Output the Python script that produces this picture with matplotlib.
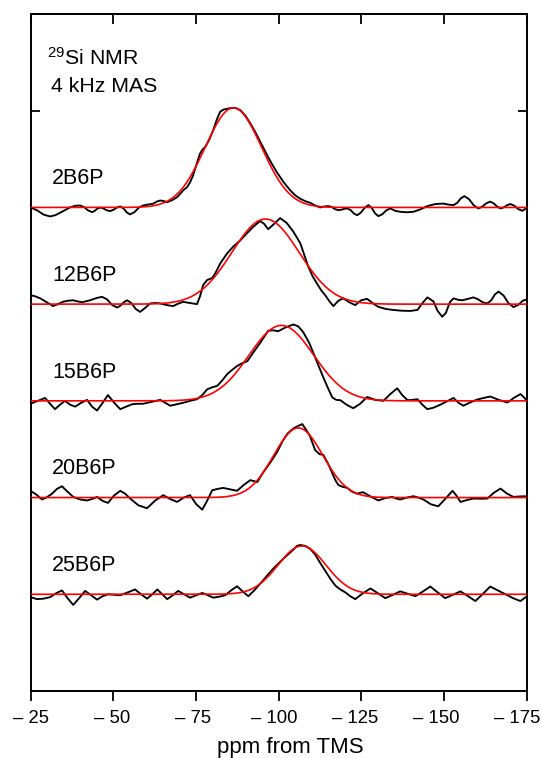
import numpy as np
import matplotlib
matplotlib.use("Agg")
import matplotlib.pyplot as plt
from matplotlib.transforms import blended_transform_factory, ScaledTranslation

plt.rcParams['font.family'] = ['Liberation Sans', 'DejaVu Sans']
plt.rcParams['mathtext.fontset'] = 'custom'
plt.rcParams['mathtext.rm'] = 'Liberation Sans'
plt.rcParams['mathtext.it'] = 'Liberation Sans'

# Sample names, stacked from top to bottom
samples = ["2B6P", "12B6P", "15B6P", "20B6P", "25B6P"]
offsets = [4, 3, 2, 1, 0]

# Measured 29Si MAS NMR spectra (chemical shift in ppm, normalised intensity)
ppm_2b6p = [-25.0, -27.0, -29.0, -30.9, -32.5, -34.5, -36.9, -38.5, -40.0, -41.2,
            -42.4, -43.6, -44.4, -45.2, -46.0, -47.0, -48.0, -49.0, -50.0, -51.1,
            -52.1, -53.1, -54.1, -55.1, -56.4, -57.7, -59.0, -60.5, -62.0, -63.1,
            -64.2, -65.2, -66.3, -67.8, -69.3, -70.2, -71.1, -72.3, -73.2, -74.1,
            -75.2, -76.2, -77.0, -77.8, -79.0, -80.2, -81.3, -82.3, -83.3, -84.4,
            -85.3, -86.2, -87.3, -88.4, -89.9, -91.4, -92.9, -94.4, -95.6, -96.8,
            -98.1, -99.5, -101.5, -103.5, -105.0, -106.5, -108.0, -109.5, -111.0, -112.5,
            -113.7, -115.0, -116.0, -117.0, -118.0, -118.9, -119.8, -120.7, -121.7, -122.7,
            -123.7, -124.8, -126.0, -127.1, -128.1, -129.1, -130.1, -131.3, -132.5, -133.7,
            -135.2, -136.7, -138.7, -140.7, -142.8, -144.9, -147.3, -149.7, -151.2, -152.8,
            -153.9, -155.0, -156.1, -157.5, -158.9, -160.3, -161.5, -162.7, -163.9, -164.9,
            -166.0, -167.0, -168.0, -169.0, -170.0, -171.2, -172.4, -173.6, -174.3, -175.0]
int_2b6p = [0.0, -0.03, -0.075, -0.093, -0.08, -0.045, 0.0, 0.017, 0.02, 0.003,
            -0.031, -0.048, -0.036, -0.012, 0.0, -0.01, -0.029, -0.038, -0.026, 0.0,
            0.01, -0.01, -0.052, -0.072, -0.049, -0.003, 0.02, 0.03, 0.038, 0.06,
            0.072, 0.066, 0.055, 0.075, 0.107, 0.14, 0.176, 0.21, 0.26, 0.33,
            0.45, 0.556, 0.60, 0.625, 0.70, 0.80, 0.91, 0.99, 1.012, 1.02,
            1.027, 1.03, 1.024, 1.005, 0.95, 0.87, 0.78, 0.68, 0.60, 0.52,
            0.44, 0.36, 0.26, 0.176, 0.125, 0.09, 0.065, 0.048, 0.02, 0.0,
            0.01, 0.014, 0.005, -0.018, -0.028, -0.024, -0.014, -0.01, -0.027, -0.063,
            -0.08, -0.054, -0.002, 0.024, -0.005, -0.061, -0.09, -0.07, -0.03, -0.01,
            -0.035, -0.045, -0.05, -0.045, -0.02, 0.014, 0.035, 0.04, 0.03, 0.024,
            0.047, 0.094, 0.117, 0.085, 0.022, -0.01, 0.008, 0.043, 0.06, 0.043,
            0.008, -0.01, 0.001, 0.024, 0.035, 0.018, -0.018, -0.035, -0.02, 0.0]

ppm_12b6p = [-25.0, -26.5, -28.0, -29.9, -31.8, -33.3, -34.8, -36.4, -37.9, -39.3,
             -40.6, -41.8, -43.0, -44.8, -46.6, -48.1, -49.7, -51.2, -52.2, -53.2,
             -54.2, -55.5, -56.8, -58.1, -59.6, -61.1, -62.7, -64.2, -66.2, -68.1,
             -69.6, -71.1, -72.6, -74.1, -75.3, -76.2, -77.2, -78.4, -79.9, -81.0,
             -82.3, -84.4, -86.4, -88.4, -90.3, -92.3, -94.4, -95.6, -96.8, -98.6,
             -100.4, -102.4, -104.4, -106.5, -107.7, -108.9, -110.2, -111.6, -112.9, -114.1,
             -115.3, -116.5, -118.0, -119.5, -121.3, -123.1, -124.9, -126.7, -128.4, -130.1,
             -132.4, -134.6, -137.2, -139.8, -141.9, -143.4, -144.9, -145.8, -146.7, -148.0,
             -149.4, -150.5, -151.7, -152.8, -154.2, -155.5, -157.2, -158.8, -160.2, -161.6,
             -163.0, -164.2, -165.3, -166.4, -167.9, -169.4, -170.9, -172.3, -173.7, -175.0]
int_12b6p = [0.093, 0.08, 0.059, 0.02, -0.02, 0.0, 0.024, 0.036, 0.04, 0.028,
             0.02, 0.03, 0.04, 0.062, 0.076, 0.05, -0.01, -0.035, -0.015, 0.02,
             0.04, 0.01, -0.05, -0.08, -0.04, 0.007, 0.012, 0.007, -0.01, -0.02,
             0.005, 0.024, 0.015, 0.007, 0.0, 0.08, 0.20, 0.25, 0.27, 0.33,
             0.42, 0.525, 0.60, 0.66, 0.73, 0.80, 0.86, 0.83, 0.775, 0.83,
             0.89, 0.84, 0.75, 0.63, 0.51, 0.39, 0.29, 0.21, 0.14, 0.09,
             0.03, -0.02, 0.035, 0.06, 0.02, -0.01, 0.04, 0.055, 0.01, -0.028,
             -0.05, -0.06, -0.068, -0.07, -0.06, 0.01, 0.07, 0.05, 0.03, -0.07,
             -0.13, -0.09, 0.02, 0.06, 0.045, 0.04, 0.055, 0.07, 0.05, 0.02,
             0.007, 0.04, 0.10, 0.13, 0.09, 0.01, -0.03, -0.01, 0.035, 0.05]

ppm_15b6p = [-25.0, -27.2, -29.4, -30.9, -32.4, -33.9, -35.4, -37.0, -38.5, -40.3,
             -42.1, -43.6, -45.1, -46.8, -48.4, -50.3, -52.1, -53.9, -55.7, -57.4,
             -59.0, -61.6, -64.2, -65.7, -67.2, -69.2, -71.1, -73.2, -75.3, -76.9,
             -78.4, -79.9, -81.4, -82.9, -84.4, -85.9, -87.4, -89.0, -90.5, -92.3,
             -94.4, -96.8, -98.3, -99.8, -102.1, -104.4, -105.9, -107.4, -109.2, -111.0,
             -112.3, -113.5, -114.9, -116.2, -117.4, -118.6, -120.5, -122.5, -124.6, -126.7,
             -129.2, -131.6, -133.7, -135.8, -137.3, -138.9, -140.4, -141.9, -143.4, -144.9,
             -146.8, -148.8, -150.8, -152.8, -154.3, -155.8, -157.9, -160.0, -161.9, -163.9,
             -166.5, -169.1, -171.0, -173.0, -174.0, -175.0]
int_15b6p = [-0.03, 0.0, 0.03, -0.03, -0.086, -0.04, 0.0, -0.04, -0.06, -0.02,
             0.01, -0.06, -0.10, -0.02, 0.06, -0.02, -0.086, -0.06, -0.035, -0.03,
             -0.03, -0.01, 0.01, -0.02, -0.05, -0.035, -0.02, 0.0, 0.017, 0.06,
             0.12, 0.14, 0.155, 0.21, 0.276, 0.32, 0.36, 0.39, 0.41, 0.50,
             0.60, 0.725, 0.73, 0.72, 0.76, 0.79, 0.77, 0.71, 0.60, 0.45,
             0.34, 0.24, 0.13, 0.035, 0.01, 0.007, -0.04, -0.076, -0.03, 0.04,
             0.01, 0.0, 0.07, 0.13, 0.06, 0.007, 0.01, 0.017, -0.04, -0.086,
             -0.07, -0.04, -0.005, 0.03, -0.02, -0.05, -0.015, 0.014, 0.03, 0.045,
             0.01, -0.017, 0.03, 0.07, 0.04, 0.0]

ppm_20b6p = [-25.0, -26.8, -28.5, -30.0, -31.5, -33.0, -34.5, -36.2, -37.9, -40.0,
             -42.1, -43.6, -45.1, -46.8, -48.4, -50.2, -52.1, -53.6, -55.1, -57.6,
             -60.2, -62.7, -65.1, -67.2, -69.3, -71.3, -73.2, -75.1, -76.9, -78.4,
             -79.9, -81.6, -83.2, -85.3, -87.4, -89.4, -91.4, -92.5, -93.5, -94.4,
             -95.3, -97.4, -99.5, -101.1, -102.6, -104.4, -105.8, -107.1, -108.3, -109.5,
             -111.0, -112.3, -113.5, -114.9, -116.2, -117.1, -118.0, -119.4, -120.7, -122.2,
             -123.7, -124.6, -125.5, -127.8, -130.1, -132.2, -134.3, -135.5, -136.7, -138.7,
             -140.7, -142.2, -143.7, -146.0, -148.2, -150.4, -152.5, -153.7, -154.9, -156.9,
             -158.8, -161.0, -163.0, -165.0, -167.0, -169.0, -170.9, -173.0, -175.0]
int_20b6p = [0.07, 0.03, -0.02, 0.005, 0.04, 0.09, 0.117, 0.06, 0.007, -0.02,
             -0.03, -0.015, 0.007, -0.035, -0.055, 0.02, 0.07, 0.04, -0.01, -0.08,
             -0.11, -0.03, 0.025, -0.015, -0.045, 0.0, 0.025, -0.07, -0.125, -0.03,
             0.076, 0.09, 0.10, 0.085, 0.07, 0.13, 0.18, 0.17, 0.16, 0.21,
             0.26, 0.36, 0.47, 0.58, 0.66, 0.715, 0.74, 0.76, 0.70, 0.63,
             0.49, 0.45, 0.44, 0.35, 0.25, 0.18, 0.13, 0.11, 0.10, 0.06,
             0.04, 0.05, 0.055, 0.01, -0.03, -0.005, 0.007, -0.01, -0.02, 0.0,
             0.014, 0.0, -0.02, -0.07, -0.09, -0.01, 0.07, 0.02, -0.045, -0.025,
             -0.01, -0.012, -0.01, 0.05, 0.093, 0.04, 0.007, 0.012, 0.014]

ppm_25b6p = [-25.0, -27.0, -29.0, -30.9, -32.7, -34.5, -36.2, -37.9, -39.7, -41.5,
             -43.3, -45.1, -46.8, -48.4, -50.3, -52.1, -54.4, -56.6, -58.4, -60.2,
             -61.8, -63.3, -64.8, -66.3, -68.0, -69.6, -71.4, -73.2, -75.1, -76.9,
             -78.6, -80.2, -82.0, -83.8, -85.6, -87.4, -89.1, -90.8, -92.6, -94.4,
             -95.9, -97.4, -98.9, -100.4, -102.4, -104.4, -105.5, -106.5, -108.0, -109.5,
             -111.0, -112.6, -114.1, -115.6, -117.1, -118.6, -120.1, -121.6, -123.1, -125.4,
             -127.7, -130.0, -132.2, -134.5, -136.7, -139.0, -141.3, -143.6, -145.8, -148.0,
             -150.3, -152.6, -154.9, -157.2, -159.4, -161.7, -163.9, -166.2, -168.5, -170.8,
             -173.0, -175.0]
int_25b6p = [-0.03, -0.05, -0.045, -0.03, 0.01, 0.04, -0.04, -0.11, -0.04, 0.035,
             -0.01, -0.055, -0.02, 0.0, -0.005, -0.01, 0.02, 0.05, 0.0, -0.045,
             0.0, 0.05, 0.0, -0.05, -0.01, 0.035, 0.0, -0.035, -0.01, 0.014,
             -0.01, -0.035, -0.025, -0.01, 0.04, 0.083, 0.03, -0.02, 0.04, 0.11,
             0.17, 0.23, 0.285, 0.335, 0.40, 0.46, 0.50, 0.51, 0.50, 0.47,
             0.41, 0.32, 0.24, 0.16, 0.09, 0.05, 0.02, -0.02, -0.05, 0.01,
             0.06, 0.01, -0.04, -0.005, 0.03, 0.005, -0.02, 0.03, 0.08, 0.02,
             -0.04, -0.005, 0.03, -0.02, -0.07, 0.005, 0.08, 0.04, 0.0, -0.04,
             -0.07, -0.02]

spectra_ppm = [ppm_2b6p, ppm_12b6p, ppm_15b6p, ppm_20b6p, ppm_25b6p]
spectra_int = [int_2b6p, int_12b6p, int_15b6p, int_20b6p, int_25b6p]

# Single-Gaussian fit parameters for each spectrum
fit_center = [-86.3, -96.0, -100.8, -105.9, -107.0]
fit_fwhm = [20.0, 24.0, 23.0, 17.5, 17.0]
fit_height = [1.03, 0.88, 0.78, 0.72, 0.50]

tick_values = [-25, -50, -75, -100, -125, -150, -175]
tick_labels = ["\u2013 25", "\u2013 50", "\u2013 75", "\u2013 100", "\u2013 125", "\u2013 150", "\u2013 175"]

fig = plt.figure(figsize=(5.42, 7.58), dpi=100)
ax = fig.add_axes([0.0563, 0.0884, 0.9160, 0.8931])

x_fit = np.linspace(-25, -175, 600)
for name, off, px, iy, c, w, h in zip(samples, offsets, spectra_ppm, spectra_int,
                                      fit_center, fit_fwhm, fit_height):
    ax.plot(px, np.asarray(iy) + off, color="black", lw=1.35,
            solid_joinstyle="round", solid_capstyle="round", zorder=2)
    sigma = w / 2.3548
    ax.plot(x_fit, off + h * np.exp(-0.5 * ((x_fit - c) / sigma) ** 2),
            color="#ff0000", lw=1.2, zorder=3)
    ax.text(-31.5, off + 0.24, name, fontsize=15.5, ha="left", va="baseline")

ax.text(-30.0, 5.48, r"$^{29}$Si NMR", fontsize=15.3, ha="left", va="baseline")
ax.text(-31.2, 5.19, "4 kHz MAS", fontsize=15.3, ha="left", va="baseline")

ax.set_xlim(-25, -175)
ax.set_ylim(-1.0, 6.0)
ax.set_xticks(tick_values)
ax.set_xticklabels([])
ax.set_yticks([5])
ax.set_yticklabels([])
ax.tick_params(axis="x", which="both", direction="out", length=7.5, width=1.3, top=False)
ax.tick_params(axis="y", direction="in", length=6.5, width=1.3, left=True, right=True)

# Tick labels set slightly inward so the last one stays on the page
label_tf = blended_transform_factory(ax.transData, ax.transAxes) + \
    ScaledTranslation(0, -0.32, fig.dpi_scale_trans)
for t, lab in zip(tick_values, tick_labels):
    ax.text(-25 + (t + 25) * 0.981, 0, lab, transform=label_tf, fontsize=13.3,
            ha="center", va="baseline", clip_on=False)

# Inward ticks along the top edge
top = ax.secondary_xaxis("top")
top.set_xticks(tick_values)
top.set_xticklabels([])
top.tick_params(direction="in", length=7.5, width=1.3)
top.spines["top"].set_linewidth(1.4)

for s in ax.spines.values():
    s.set_linewidth(1.4)

fig.text(290 / 542, 5 / 758, "ppm from TMS", fontsize=16, ha="center", va="baseline")

fig.savefig("out.png", dpi=100)
